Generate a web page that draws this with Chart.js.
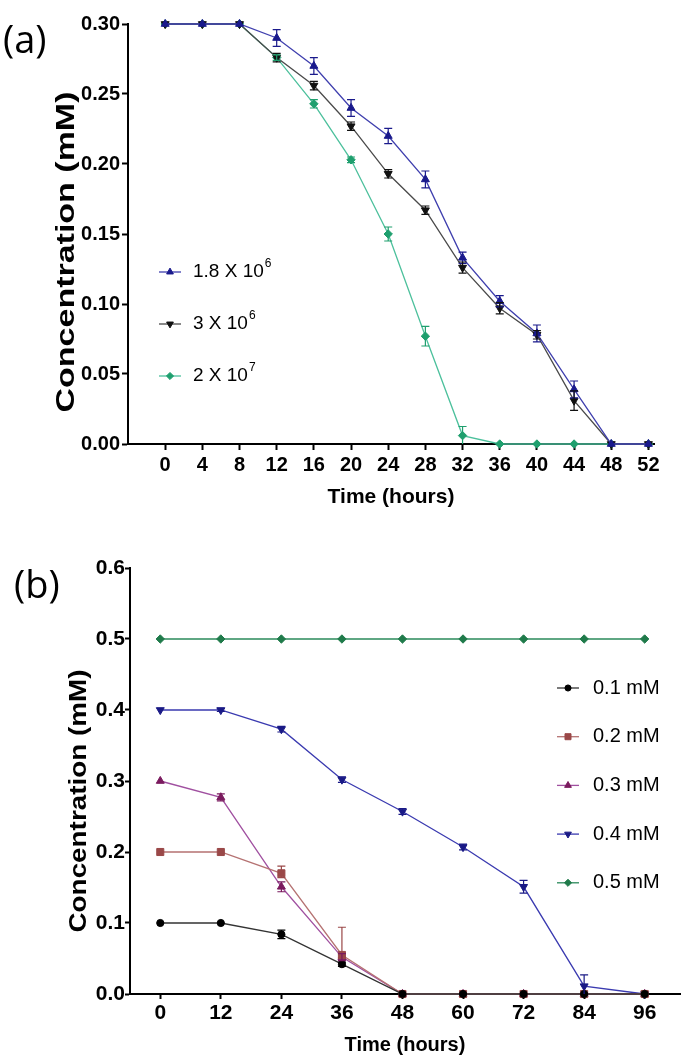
<!DOCTYPE html>
<html>
<head>
<meta charset="utf-8">
<script src="https://cdn.jsdelivr.net/npm/chart.js@4.4.0/dist/chart.umd.min.js"></script>
<style>
html,body{margin:0;padding:0;background:#fff;}
#wrap{position:relative;width:686px;height:1064px;overflow:hidden;background:#fff;}
.cv{position:absolute;left:0;}
.tag{position:absolute;font-family:'Open Sans','Liberation Sans',sans-serif;font-size:38px;line-height:1;color:#000;}
</style>
</head>
<body>
<div id="wrap">
  <div class="cv" style="top:0;"><canvas id="chartA" width="686" height="520"></canvas></div>
  <div class="cv" style="top:520px;"><canvas id="chartB" width="686" height="544"></canvas></div>
  <div class="tag" style="left:3px;top:19px;">(a)</div>
  <div class="tag" style="left:14px;top:564px;">(b)</div>
</div>
<script>
// ---------- Panel (a) data ----------
const timeA    = [0, 4, 8, 12, 16, 20, 24, 28, 32, 36, 40, 44, 48, 52];
const seriesA1 = [0.300, 0.300, 0.300, 0.290, 0.270, 0.240, 0.220, 0.189, 0.133, 0.102, 0.079, 0.039, 0.000, 0.000];
const errA1    = [0, 0, 0, 0.006, 0.006, 0.006, 0.0055, 0.006, 0.004, 0.004, 0.006, 0.006, 0, 0];
const seriesA2 = [0.300, 0.300, 0.300, 0.276, 0.256, 0.227, 0.193, 0.167, 0.126, 0.097, 0.078, 0.031, 0.000, 0.000];
const errA2    = [0, 0, 0, 0.003, 0.003, 0.003, 0.003, 0.003, 0.004, 0.004, 0.003, 0.007, 0, 0];
const seriesA3 = [0.300, 0.300, 0.300, 0.276, 0.243, 0.203, 0.150, 0.077, 0.006, 0.000, 0.000, 0.000, 0.000, 0.000];
const errA3    = [0, 0, 0, 0.002, 0.003, 0.002, 0.005, 0.007, 0.0065, 0, 0, 0, 0, 0];
const labelsA  = ['1.8 X 10⁶', '3 X 10⁶', '2 X 10⁷'];
const xTicksA  = [0, 4, 8, 12, 16, 20, 24, 28, 32, 36, 40, 44, 48, 52];
const yTicksA  = [0, 0.05, 0.10, 0.15, 0.20, 0.25, 0.30];

// ---------- Panel (b) data ----------
const timeB     = [0, 12, 24, 36, 48, 60, 72, 84, 96];
const seriesB1  = [0.100, 0.100, 0.084, 0.042, 0, 0, 0, 0, 0];
const errB1     = [0, 0, 0.006, 0.003, 0, 0, 0, 0, 0];
const seriesB2  = [0.200, 0.200, 0.170, 0.055, 0, 0, 0, 0, 0];
const errB2     = [0, 0, 0.010, 0.039, 0, 0, 0, 0, 0];
const errB2Low  = [0, 0, 0.006, 0.004, 0, 0, 0, 0, 0];
const seriesB3  = [0.300, 0.277, 0.151, 0.052, 0, 0, 0, 0, 0];
const errB3     = [0, 0.005, 0.007, 0.005, 0, 0, 0, 0, 0];
const seriesB4  = [0.400, 0.400, 0.373, 0.302, 0.257, 0.207, 0.151, 0.011, 0.000];
const errB4     = [0, 0.002, 0.004, 0.004, 0.004, 0.004, 0.009, 0.016, 0];
const seriesB5  = [0.5, 0.5, 0.5, 0.5, 0.5, 0.5, 0.5, 0.5, 0.5];
const errB5     = [0, 0, 0, 0, 0, 0, 0, 0, 0];
const labelsB   = ['0.1 mM', '0.2 mM', '0.3 mM', '0.4 mM', '0.5 mM'];
const xTicksB   = [0, 12, 24, 36, 48, 60, 72, 84, 96];
const yTicksB   = [0, 0.1, 0.2, 0.3, 0.4, 0.5, 0.6];

const FONT = "'Liberation Sans', Arial, sans-serif";

function pts(xs, ys) { return xs.map((x, i) => ({ x: x, y: ys[i] })); }

function ds(label, xs, ys, errs, errsLow, line, mark, style, rot, r) {
  return {
    label: label, data: pts(xs, ys), errors: errs, errorsLow: errsLow || errs,
    borderColor: line, borderWidth: 1.3,
    pointBackgroundColor: mark, pointBorderColor: mark, pointBorderWidth: 1,
    pointStyle: style, pointRotation: rot, pointRadius: r,
    tension: 0, fill: false, clip: false
  };
}

const supMap = {'⁰':'0','¹':'1','²':'2','³':'3','⁴':'4','⁵':'5','⁶':'6','⁷':'7','⁸':'8','⁹':'9'};

const errorBarPlugin = {
  id: 'errorBars',
  afterDatasetsDraw(chart) {
    const ctx = chart.ctx, ys = chart.scales.y;
    chart.data.datasets.forEach((d, i) => {
      if (!d.errors) return;
      const meta = chart.getDatasetMeta(i);
      ctx.save();
      ctx.strokeStyle = d.pointBackgroundColor;
      ctx.lineWidth = 1.2;
      d.data.forEach((p, j) => {
        const eu = d.errors[j], el = d.errorsLow[j];
        if (!eu && !el) return;
        const x = meta.data[j].x;
        const y1 = ys.getPixelForValue(p.y + eu), y2 = ys.getPixelForValue(Math.max(0, p.y - el));
        ctx.beginPath();
        ctx.moveTo(x, y1); ctx.lineTo(x, y2);
        ctx.moveTo(x - 4, y1); ctx.lineTo(x + 4, y1);
        if (p.y - el > 0) { ctx.moveTo(x - 4, y2); ctx.lineTo(x + 4, y2); }
        ctx.stroke();
      });
      ctx.restore();
    });
  }
};

const legendPlugin = {
  id: 'seriesLegend',
  afterDraw(chart, args, o) {
    const ctx = chart.ctx;
    ctx.save();
    chart.data.datasets.forEach((d, i) => {
      const y = o.y + i * o.dy;
      ctx.strokeStyle = d.borderColor; ctx.lineWidth = d.borderWidth;
      ctx.beginPath(); ctx.moveTo(o.x, y); ctx.lineTo(o.x + o.len, y); ctx.stroke();
      ctx.fillStyle = d.pointBackgroundColor; ctx.strokeStyle = d.pointBorderColor; ctx.lineWidth = 1;
      Chart.helpers.drawPoint(ctx, { pointStyle: d.pointStyle, rotation: d.pointRotation || 0, radius: d.pointRadius * 0.85, borderWidth: 1 }, o.x + o.len / 2, y);
      let base = '', sup = '';
      for (const ch of d.label) { if (supMap[ch]) sup += supMap[ch]; else base += ch; }
      ctx.fillStyle = '#000';
      ctx.textBaseline = 'middle'; ctx.textAlign = 'left';
      ctx.font = o.size + 'px ' + FONT;
      ctx.fillText(base, o.tx, y);
      if (sup) {
        const w = ctx.measureText(base).width;
        ctx.font = Math.round(o.size * 0.62) + 'px ' + FONT;
        ctx.fillText(sup, o.tx + w + 1, y - o.size * 0.42);
      }
    });
    ctx.restore();
  }
};

// Y-axis title drawn along the axis, stretched to the reference length
const yTitlePlugin = {
  id: 'yTitle',
  afterDraw(chart, args, o) {
    const ctx = chart.ctx;
    ctx.save();
    ctx.translate(o.cx, o.cy);
    ctx.rotate(-Math.PI / 2);
    ctx.font = 'bold ' + o.size + 'px ' + FONT;
    const w = ctx.measureText(o.text).width;
    ctx.scale(o.len / w, 1);
    ctx.fillStyle = '#000'; ctx.textAlign = 'center'; ctx.textBaseline = 'middle';
    ctx.fillText(o.text, 0, 0);
    ctx.restore();
  }
};

function axes(cfg) {
  return {
    x: {
      type: 'linear', min: cfg.xmin, max: cfg.xmax,
      afterBuildTicks: s => { s.ticks = cfg.xticks.map(v => ({ value: v })); },
      afterFit: s => { s.height = cfg.xh; },
      grid: { display: true, drawOnChartArea: false, drawTicks: true, tickLength: cfg.tl, tickWidth: 2, tickColor: '#000' },
      border: { display: true, color: '#000', width: 2 },
      ticks: { color: '#000', font: { family: FONT, size: cfg.tickSize, weight: 'bold' }, padding: cfg.xpad, maxRotation: 0, autoSkip: false, callback: v => String(v) },
      title: { display: true, text: 'Time (hours)', color: '#000', font: { family: FONT, size: cfg.xtSize, weight: 'bold' }, padding: { top: 0, bottom: cfg.xtpb } }
    },
    y: {
      type: 'linear', min: 0, max: cfg.ymax,
      afterBuildTicks: s => { s.ticks = cfg.yticks.map(v => ({ value: v })); },
      afterFit: s => { s.width = cfg.yw; },
      grid: { display: true, drawOnChartArea: false, drawTicks: true, tickLength: cfg.tl, tickWidth: 2, tickColor: '#000' },
      border: { display: true, color: '#000', width: 2 },
      ticks: { color: '#000', font: { family: FONT, size: cfg.tickSize, weight: 'bold' }, padding: cfg.ypad, autoSkip: false, callback: v => Number(v).toFixed(cfg.dec) },
      title: { display: false }
    }
  };
}

new Chart(document.getElementById('chartA'), {
  type: 'line',
  data: {
    datasets: [
      ds(labelsA[0], timeA, seriesA1, errA1, null, '#3f3fae', '#1a1a8c', 'triangle', 0, 4.6),
      ds(labelsA[1], timeA, seriesA2, errA2, null, '#4a4a4a', '#111111', 'triangle', 180, 4.6),
      ds(labelsA[2], timeA, seriesA3, errA3, null, '#4cc09c', '#1f9f6e', 'rectRot', 0, 4.2)
    ]
  },
  options: {
    responsive: false, animation: false, devicePixelRatio: 1,
    layout: { padding: { left: 0, right: 32, top: 24, bottom: 0 } },
    scales: axes({ xmin: -4, xmax: 52.6, xticks: xTicksA, xh: 76, tl: 6, tickSize: 20, xpad: 3, xtSize: 21, xtpb: 10,
                   ymax: 0.30, yticks: yTicksA, yw: 128, ypad: 2, dec: 2 }),
    plugins: {
      legend: { display: false }, tooltip: { enabled: false },
      seriesLegend: { x: 159, len: 22, tx: 193, y: 272, dy: 52, size: 19 },
      yTitle: { text: 'Concentration (mM)', cx: 67, cy: 252, size: 25, len: 321 }
    }
  },
  plugins: [errorBarPlugin, legendPlugin, yTitlePlugin]
});

new Chart(document.getElementById('chartB'), {
  type: 'line',
  data: {
    datasets: [
      ds(labelsB[0], timeB, seriesB1, errB1, null, '#333333', '#000000', 'circle', 0, 3.6),
      ds(labelsB[1], timeB, seriesB2, errB2, errB2Low, '#b57272', '#9a4848', 'rect', 0, 5),
      ds(labelsB[2], timeB, seriesB3, errB3, null, '#a050a0', '#7a1a5e', 'triangle', 0, 4.6),
      ds(labelsB[3], timeB, seriesB4, errB4, null, '#3a3ab0', '#1a1a86', 'triangle', 180, 4.6),
      ds(labelsB[4], timeB, seriesB5, errB5, null, '#2a8a5a', '#1f7a4a', 'rectRot', 0, 4.2)
    ]
  },
  options: {
    responsive: false, animation: false, devicePixelRatio: 1,
    layout: { padding: { left: 0, right: 2, top: 48, bottom: 0 } },
    scales: axes({ xmin: -6, xmax: 103, xticks: xTicksB, xh: 70, tl: 5, tickSize: 21, xpad: 1.4, xtSize: 20, xtpb: 7,
                   ymax: 0.6, yticks: yTicksB, yw: 130, ypad: 0, dec: 1 }),
    plugins: {
      legend: { display: false }, tooltip: { enabled: false },
      seriesLegend: { x: 557, len: 22, tx: 593, y: 168, dy: 48.7, size: 20 },
      yTitle: { text: 'Concentration (mM)', cx: 80, cy: 281, size: 23, len: 263 }
    }
  },
  plugins: [errorBarPlugin, legendPlugin, yTitlePlugin]
});
</script>
</body>
</html>
